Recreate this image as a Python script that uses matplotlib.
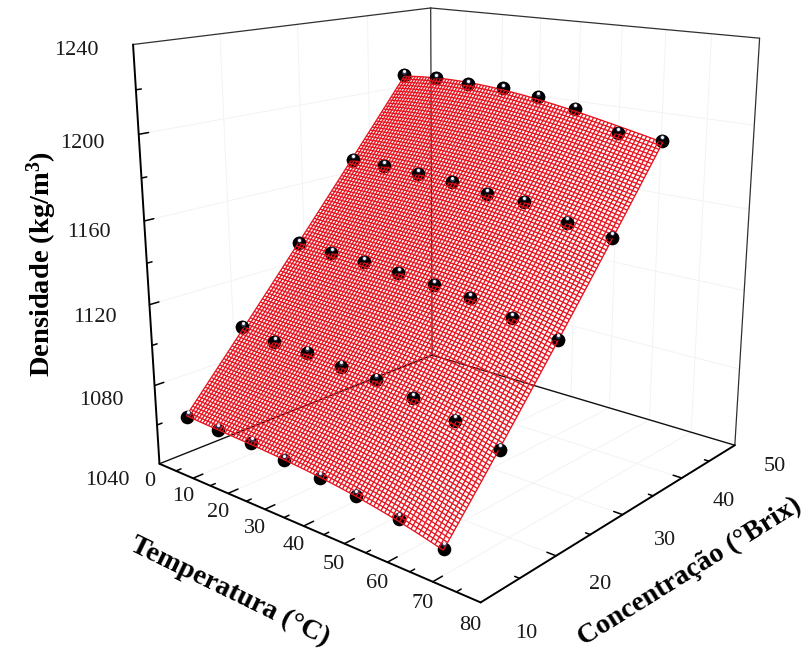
import numpy as np
import matplotlib
matplotlib.use('Agg')
import matplotlib.pyplot as plt
from mpl_toolkits.mplot3d import proj3d

plt.rcParams['font.family'] = ['Liberation Serif', 'DejaVu Serif']
plt.rcParams['mathtext.fontset'] = 'custom'
plt.rcParams['mathtext.rm'] = 'Liberation Serif'
plt.rcParams['mathtext.bf'] = 'Liberation Serif:bold'

# ---- data ----
temperatura = [5, 15, 25, 35, 45, 55, 65, 75]
conc_r1 = [11.7, 11.2, 10.9, 10.2, 9.7, 9.0, 8.8, 8.5]
conc_r2 = [19.0, 18.6, 18.1, 17.5, 16.8, 16.1, 15.7, 15.4]
conc_r3 = [26.9, 26.5, 25.9, 25.3, 24.6, 23.7, 23.2, 23.1]
conc_r4 = [34.9, 34.2, 33.7, 33.0, 32.1, 31.2, 31.0, 30.6]
conc_r5 = [42.8, 42.2, 41.4, 40.7, 39.8, 38.8, 38.6, 38.0]
dens_r1 = [1065, 1066, 1067, 1067, 1067, 1068, 1066, 1062]
dens_r2 = [1100, 1099, 1100, 1100, 1101, 1100, 1097, 1092]
dens_r3 = [1134, 1134, 1135, 1135, 1135, 1135, 1132, 1128]
dens_r4 = [1170, 1171, 1171, 1171, 1170, 1171, 1166, 1164]
dens_r5 = [1209, 1210, 1210, 1211, 1210, 1208, 1200, 1200]
t_ticks = [0, 10, 20, 30, 40, 50, 60, 70, 80]
c_ticks = [10, 20, 30, 40, 50]
z_ticks = [1040, 1080, 1120, 1160, 1200, 1240]

T_MIN, T_MAX, C_MIN, C_MAX, Z_MIN, Z_MAX = 0, 80, 10, 50, 1040, 1240

WF, HF = 805, 651
fig = plt.figure(figsize=(WF / 100, HF / 100), dpi=100)
ax = fig.add_axes([0, 0, 1, 1], projection='3d', computed_zorder=False)
ax.set_xlim(T_MIN, T_MAX); ax.set_ylim(C_MIN, C_MAX); ax.set_zlim(Z_MIN, Z_MAX)
ax.set_proj_type('persp', focal_length=0.3605)
ax.view_init(elev=16.098, azim=-49.546)
ax.set_box_aspect((1.0031, 1, 1.0105))
ax.set_axis_off()
ax.patch.set_alpha(0)

# place the 3D axes so that the cube lands where it is in the picture
S, TX, TY = 3877.42, 451.58, 256.61
vl = ax.viewLim
L = TX + S * vl.x0
W = S * (vl.x1 - vl.x0)
TOP = TY - S * vl.y1
H = S * (vl.y1 - vl.y0)
ax.set_position([L / WF, 1 - (TOP + H) / HF, W / WF, H / HF])


def seg(a, b, **kw):
    ax.plot([a[0], b[0]], [a[1], b[1]], [a[2], b[2]], solid_capstyle='round', **kw)


def label3(t, c, z, s, dx=0, dy=0, **kw):
    X, Y, _ = proj3d.proj_transform(t, c, z, ax.get_proj())
    fig.text((TX + S * X + dx) / WF, 1 - (TY - S * Y + dy) / HF, s, **kw)


# faint wall and floor grid
gk = dict(color='#f3f3f3', lw=0.7, zorder=1)
for z in z_ticks[1:-1]:
    seg((T_MIN, C_MIN, z), (T_MIN, C_MAX, z), **gk)
    seg((T_MIN, C_MAX, z), (T_MAX, C_MAX, z), **gk)
for t in t_ticks[1:-1]:
    seg((t, C_MAX, Z_MIN), (t, C_MAX, Z_MAX), **gk)
    seg((t, C_MIN, Z_MIN), (t, C_MAX, Z_MIN), **gk)
for c in c_ticks[1:-1]:
    seg((T_MIN, c, Z_MIN), (T_MIN, c, Z_MAX), **gk)
    seg((T_MIN, c, Z_MIN), (T_MAX, c, Z_MIN), **gk)

# thin back edges
bk = dict(color='#303030', lw=0.9, zorder=2)
seg((T_MIN, C_MAX, Z_MIN), (T_MIN, C_MAX, Z_MAX), **bk)
seg((T_MIN, C_MIN, Z_MAX), (T_MIN, C_MAX, Z_MAX), **bk)
seg((T_MIN, C_MAX, Z_MAX), (T_MAX, C_MAX, Z_MAX), **bk)
seg((T_MAX, C_MAX, Z_MIN), (T_MAX, C_MAX, Z_MAX), **bk)
seg((T_MIN, C_MIN, Z_MIN), (T_MIN, C_MAX, Z_MIN), color='#101010', lw=1.0, zorder=2)
seg((T_MIN, C_MAX, Z_MIN), (T_MAX, C_MAX, Z_MIN), color='#101010', lw=1.0, zorder=2)

# heavy axis edges
fk = dict(color='black', lw=1.4, zorder=6)
seg((T_MIN, C_MIN, Z_MIN), (T_MAX, C_MIN, Z_MIN), **fk)
seg((T_MAX, C_MIN, Z_MIN), (T_MAX, C_MAX, Z_MIN), **fk)
seg((T_MIN, C_MIN, Z_MIN), (T_MIN, C_MIN, Z_MAX), **fk)

# ticks (major and minor)
tk = dict(color='black', lw=1.1, zorder=6)
for t in range(5, T_MAX, 5):
    seg((t, C_MIN, Z_MIN), (t, C_MIN + (1.2 if t % 10 == 0 else 0.6), Z_MIN), **tk)
for c in range(15, C_MAX, 5):
    seg((T_MAX, c, Z_MIN), (T_MAX - (1.9 if c % 10 == 0 else 1.0), c, Z_MIN), **tk)
for z in range(Z_MIN + 20, Z_MAX, 20):
    seg((T_MIN, C_MIN, z), (T_MIN, C_MIN + (1.1 if (z - Z_MIN) % 40 == 0 else 0.6), z), **tk)

# tick labels
lab = dict(fontsize=16, ha='center', va='center', color='#1a1a1a')
for t in t_ticks:
    label3(t, C_MIN - 1.3, Z_MIN - 7, str(t), **lab)
for c in c_ticks:
    label3(T_MAX + 9, c, Z_MIN - 5, str(c), **lab)
for z in z_ticks:
    label3(T_MIN, C_MIN - 4.7, z, str(z), dx=-12.5, dy=1, **lab)

# points
T = np.array(temperatura, float)
CM = np.array([conc_r1, conc_r2, conc_r3, conc_r4, conc_r5], float)
DM = np.array([dens_r1, dens_r2, dens_r3, dens_r4, dens_r5], float)
TM = np.tile(T, (len(CM), 1))
x, y, z = TM.ravel(), CM.ravel(), DM.ravel()

# whole ball below the mesh; the upper half of the inner rows rises above it
ax.scatter(x, y, z, s=96, c='black', depthshade=False, linewidths=0, zorder=3)
ax.plot(TM[1:].ravel(), CM[1:].ravel(), DM[1:].ravel(), ls='none', marker='o', ms=9.8,
        mfc='black', mec='none', fillstyle='top', markerfacecoloralt='none', zorder=5.5)
ax.scatter(x - 0.3, y + 0.2, z + 1.5, s=12, c='#3a3a5a', depthshade=False, linewidths=0, zorder=5.6)
ax.scatter(x - 0.3, y + 0.2, z + 1.6, s=5, c='#f6f6fa', depthshade=False, linewidths=0, zorder=5.7)


# fitted red mesh
def basis(u, v):
    return np.stack([u**i * v**j for i in range(4) for j in range(3)], axis=-1)


ui, vi = np.meshgrid(np.arange(CM.shape[1], dtype=float), np.arange(CM.shape[0], dtype=float))
B = basis(ui.ravel(), vi.ravel())
coef_c = np.linalg.lstsq(B, CM.ravel(), rcond=None)[0]
coef_d = np.linalg.lstsq(B, DM.ravel(), rcond=None)[0]
uu, vv = np.meshgrid(np.linspace(0, 7, 81), np.linspace(0, 4, 111))
Bm = basis(uu, vv)
XM = T[0] + uu * (T[1] - T[0])
YM = Bm @ coef_c
ZM = Bm @ coef_d
ax.plot_wireframe(XM, YM, ZM, rstride=1, cstride=1, color='#e6121e', lw=0.95, zorder=5)

# axis titles
tk2 = dict(fontweight='bold', ha='center', va='center', color='black', rotation_mode='anchor')
fig.text(42 / WF, 1 - 264 / HF, 'Densidade (kg/m$\\mathbf{^3}$)', fontsize=20.5, rotation=90, **tk2)
fig.text(230 / WF, 1 - 592 / HF, 'Temperatura (°C)', fontsize=20.5, rotation=-26, **tk2)
fig.text(690 / WF, 1 - 572 / HF, 'Concentração (°Brix)', fontsize=20.3, rotation=32, **tk2)

fig.savefig('out.png', dpi=100)
